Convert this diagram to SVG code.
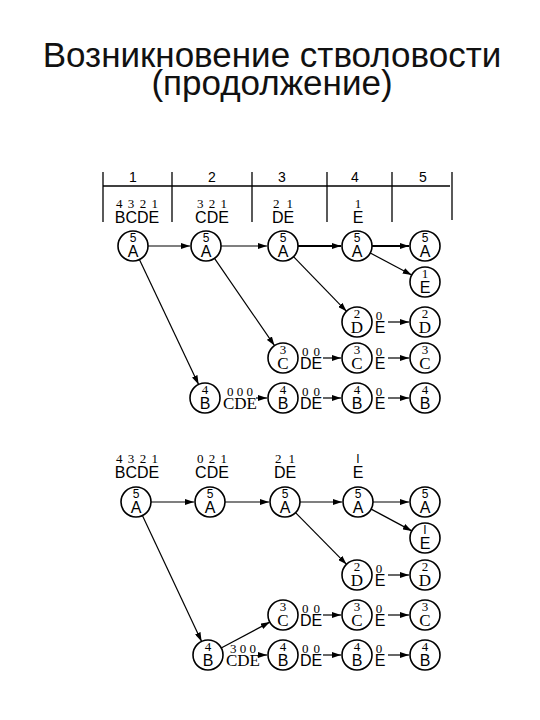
<svg xmlns="http://www.w3.org/2000/svg" width="540" height="720" viewBox="0 0 540 720">
<defs>
<marker id="ah" markerUnits="userSpaceOnUse" markerWidth="9" markerHeight="6" refX="9" refY="3" orient="auto">
<path d="M0,0 L9,3 L0,6 z" fill="#000"/>
</marker>
<style>
.title{font-family:"Liberation Sans",Arial,sans-serif;font-size:35px;fill:#111;text-anchor:middle}
.hd{font-family:"Liberation Sans",Arial,sans-serif;font-size:14px;fill:#000;text-anchor:middle}
.dg{font-family:"Liberation Serif","Times New Roman",serif;font-size:13px;fill:#000;text-anchor:middle}
.lt{font-family:"Liberation Sans",Arial,sans-serif;font-size:16px;fill:#000;text-anchor:middle}
.ltr{font-family:"Liberation Serif","Times New Roman",serif;font-size:17px;fill:#000;text-anchor:middle}
.cd{font-family:"Liberation Sans",Arial,sans-serif;font-size:12px;fill:#000;text-anchor:middle}
.cds{font-family:"Liberation Serif","Times New Roman",serif;font-size:13px;fill:#000;text-anchor:middle}
.c{fill:#fff;stroke:#000;stroke-width:1.6}
.grid line{stroke:#000;stroke-width:1.3}
.conn line{stroke:#000;stroke-width:1.2;marker-end:url(#ah)}
</style>
<g id="nA"><circle class="c" r="15"/><text class="cd" y="-4">5</text><text class="lt" y="11">A</text></g>
<g id="nB"><circle class="c" r="15"/><text class="cds" y="-4">4</text><text class="lt" y="11">B</text></g>
<g id="nC"><circle class="c" r="15"/><text class="cds" y="-4">3</text><text class="ltr" y="11">C</text></g>
<g id="nD"><circle class="c" r="15"/><text class="cds" y="-4">2</text><text class="ltr" y="11">D</text></g>
<g id="nE"><circle class="c" r="15"/><text class="cds" y="-4">1</text><text class="lt" y="11">E</text></g>
<g id="nE2"><circle class="c" r="15"/><text class="cd" y="-4">I</text><text class="lt" y="11">E</text></g>
</defs>
<rect width="540" height="720" fill="#fff"/>
<text class="title" x="272" y="67">Возникновение стволовости</text>
<text class="title" x="272" y="95">(продолжение)</text>

<g id="header" class="grid">
<line x1="103" y1="172" x2="103" y2="222"/>
<line x1="452" y1="172" x2="452" y2="220"/>
<line x1="103" y1="186" x2="450" y2="186"/>
<line x1="172" y1="172" x2="172" y2="222"/>
<line x1="252" y1="172" x2="252" y2="222"/>
<line x1="327" y1="172" x2="327" y2="222"/>
<line x1="392" y1="172" x2="392" y2="222"/>
<text class="hd" x="133" y="182">1</text>
<text class="hd" x="212" y="182">2</text>
<text class="hd" x="282" y="182">3</text>
<text class="hd" x="355" y="182">4</text>
<text class="hd" x="423" y="182">5</text>
</g>

<g id="labels1">
<text class="dg" x="137" y="208" textLength="42" lengthAdjust="spacing">4 3 2 1</text>
<text class="lt" x="137" y="223">BCDE</text>
<text class="dg" x="212" y="208" textLength="30" lengthAdjust="spacing">3 2 1</text>
<text class="lt" x="212" y="223">CDE</text>
<text class="dg" x="283" y="208" textLength="20" lengthAdjust="spacing">2 1</text>
<text class="lt" x="283" y="223">DE</text>
<text class="dg" x="358" y="208">1</text>
<text class="lt" x="358" y="223">E</text>
<text class="dg" x="379" y="320">0</text><text class="lt" x="380" y="333">E</text>
<text class="dg" x="311" y="356" textLength="18" lengthAdjust="spacing">0 0</text><text class="lt" x="311" y="369">DE</text>
<text class="dg" x="379" y="356">0</text><text class="lt" x="380" y="369">E</text>
<text class="dg" x="240" y="396" textLength="26" lengthAdjust="spacing">0 0 0</text><text class="ltr" x="240" y="409">CDE</text>
<text class="dg" x="311" y="396" textLength="18" lengthAdjust="spacing">0 0</text><text class="lt" x="311" y="409">DE</text>
<text class="dg" x="379" y="396">0</text><text class="lt" x="380" y="409">E</text>
</g>

<g id="labels2">
<text class="dg" x="137" y="463" textLength="42" lengthAdjust="spacing">4 3 2 1</text>
<text class="lt" x="137" y="478">BCDE</text>
<text class="dg" x="212" y="463" textLength="30" lengthAdjust="spacing">0 2 1</text>
<text class="lt" x="212" y="478">CDE</text>
<text class="dg" x="285" y="463" textLength="20" lengthAdjust="spacing">2 1</text>
<text class="lt" x="285" y="478">DE</text>
<text class="cd" x="358" y="463">I</text>
<text class="lt" x="358" y="478">E</text>
<text class="dg" x="379" y="573">0</text><text class="lt" x="380" y="586">E</text>
<text class="dg" x="311" y="613" textLength="18" lengthAdjust="spacing">0 0</text><text class="lt" x="311" y="626">DE</text>
<text class="dg" x="379" y="613">0</text><text class="lt" x="380" y="626">E</text>
<text class="dg" x="243" y="653" textLength="26" lengthAdjust="spacing">3 0 0</text><text class="ltr" x="243" y="666">CDE</text>
<text class="dg" x="311" y="653" textLength="18" lengthAdjust="spacing">0 0</text><text class="lt" x="311" y="666">DE</text>
<text class="dg" x="379" y="653">0</text><text class="lt" x="380" y="666">E</text>
</g>

<g id="connectors" class="conn">
<line x1="148" y1="246" x2="190" y2="246"/>
<line x1="221" y1="246" x2="267" y2="246"/>
<line x1="298" y1="246" x2="341" y2="246" style="stroke-width:1.8"/>
<line x1="372" y1="246" x2="409" y2="246" style="stroke-width:1.8"/>
<line x1="139.4" y1="259.6" x2="198.6" y2="384.4"/>
<line x1="214.5" y1="258.4" x2="274.5" y2="345.6"/>
<line x1="293.5" y1="256.7" x2="346.5" y2="311.3"/>
<line x1="370.3" y1="253" x2="411.7" y2="275"/>
<line x1="388" y1="322" x2="409" y2="322"/>
<line x1="323" y1="358" x2="341" y2="358"/>
<line x1="388" y1="358" x2="409" y2="358"/>
<line x1="256" y1="398" x2="267" y2="398"/>
<line x1="323" y1="398" x2="341" y2="398"/>
<line x1="388" y1="398" x2="409" y2="398"/>

<line x1="151" y1="502" x2="194" y2="502"/>
<line x1="225" y1="502" x2="269" y2="502"/>
<line x1="300" y1="502" x2="342" y2="502"/>
<line x1="373" y1="502" x2="409" y2="502"/>
<line x1="142.4" y1="515.6" x2="201.6" y2="641.4"/>
<line x1="295.5" y1="512.7" x2="346.5" y2="564.3"/>
<line x1="371.2" y1="509.1" x2="411.8" y2="530.9"/>
<line x1="221.2" y1="648" x2="269.8" y2="622.1"/>
<line x1="388" y1="575" x2="409" y2="575"/>
<line x1="323" y1="615" x2="341" y2="615"/>
<line x1="388" y1="615" x2="409" y2="615"/>
<line x1="259" y1="655" x2="267" y2="655"/>
<line x1="323" y1="655" x2="341" y2="655"/>
<line x1="388" y1="655" x2="409" y2="655"/>
</g>

<g id="d1-A1"><use href="#nA" x="133" y="246"/></g>
<g id="d1-A2"><use href="#nA" x="206" y="246"/></g>
<g id="d1-A3"><use href="#nA" x="283" y="246"/></g>
<g id="d1-A4"><use href="#nA" x="357" y="246"/></g>
<g id="d1-A5"><use href="#nA" x="425" y="246"/></g>
<g id="d1-E5"><use href="#nE" x="425" y="282"/></g>
<g id="d1-D4"><use href="#nD" x="357" y="322"/></g>
<g id="d1-D5"><use href="#nD" x="425" y="322"/></g>
<g id="d1-C3"><use href="#nC" x="283" y="358"/></g>
<g id="d1-C4"><use href="#nC" x="357" y="358"/></g>
<g id="d1-C5"><use href="#nC" x="425" y="358"/></g>
<g id="d1-B2"><use href="#nB" x="205" y="398"/></g>
<g id="d1-B3"><use href="#nB" x="283" y="398"/></g>
<g id="d1-B4"><use href="#nB" x="357" y="398"/></g>
<g id="d1-B5"><use href="#nB" x="425" y="398"/></g>

<g id="d2-A1"><use href="#nA" x="136" y="502"/></g>
<g id="d2-A2"><use href="#nA" x="210" y="502"/></g>
<g id="d2-A3"><use href="#nA" x="285" y="502"/></g>
<g id="d2-A4"><use href="#nA" x="358" y="502"/></g>
<g id="d2-A5"><use href="#nA" x="425" y="502"/></g>
<g id="d2-E5"><use href="#nE2" x="425" y="538"/></g>
<g id="d2-D4"><use href="#nD" x="357" y="575"/></g>
<g id="d2-D5"><use href="#nD" x="425" y="575"/></g>
<g id="d2-C3"><use href="#nC" x="283" y="615"/></g>
<g id="d2-C4"><use href="#nC" x="357" y="615"/></g>
<g id="d2-C5"><use href="#nC" x="425" y="615"/></g>
<g id="d2-B2"><use href="#nB" x="208" y="655"/></g>
<g id="d2-B3"><use href="#nB" x="283" y="655"/></g>
<g id="d2-B4"><use href="#nB" x="357" y="655"/></g>
<g id="d2-B5"><use href="#nB" x="425" y="655"/></g>
</svg>
